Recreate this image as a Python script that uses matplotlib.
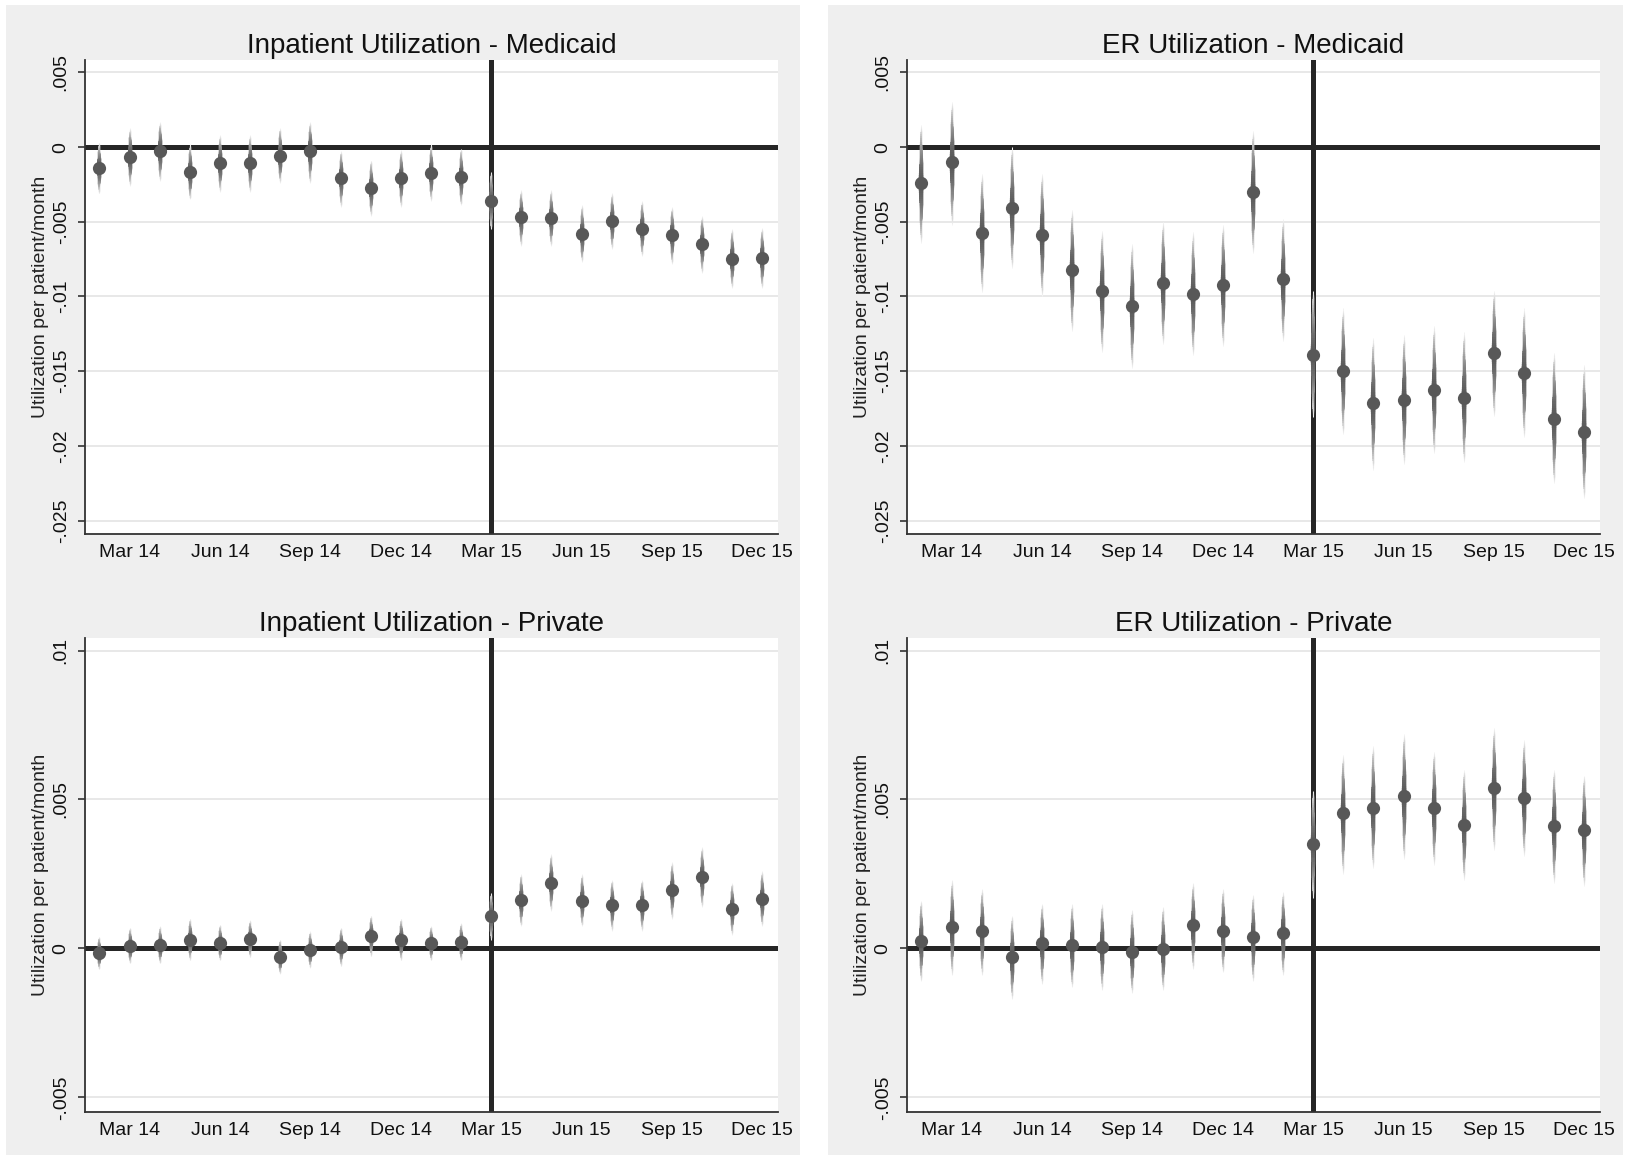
import numpy as np
import matplotlib.pyplot as plt
from matplotlib.patches import Rectangle

plt.rcParams['font.family'] = ['Liberation Sans', 'DejaVu Sans']

# months Feb 14 .. Dec 15
months = ['Feb 14', 'Mar 14', 'Apr 14', 'May 14', 'Jun 14', 'Jul 14', 'Aug 14', 'Sep 14',
          'Oct 14', 'Nov 14', 'Dec 14', 'Jan 15', 'Feb 15', 'Mar 15', 'Apr 15', 'May 15',
          'Jun 15', 'Jul 15', 'Aug 15', 'Sep 15', 'Oct 15', 'Nov 15', 'Dec 15']
tick_months = ['Mar 14', 'Jun 14', 'Sep 14', 'Dec 14', 'Mar 15', 'Jun 15', 'Sep 15', 'Dec 15']
policy_month = 'Mar 15'

# Inpatient - Medicaid
inp_mcd = [-0.00137, -0.00067, -0.00025, -0.00167, -0.00107, -0.00107, -0.0006, -0.00027,
           -0.00204, -0.00276, -0.00206, -0.00172, -0.0020, -0.00363, -0.0047, -0.00475,
           -0.00582, -0.00495, -0.00545, -0.00587, -0.0065, -0.0075, -0.00744]
inp_mcd_lo = [-0.0031, -0.0026, -0.0023, -0.0035, -0.0030, -0.0030, -0.0024, -0.0024,
              -0.0040, -0.0046, -0.0040, -0.0036, -0.0039, -0.0055, -0.0066, -0.0066,
              -0.0077, -0.0068, -0.0073, -0.0078, -0.0084, -0.0094, -0.0094]
inp_mcd_hi = [0.0003, 0.0013, 0.0017, 0.0002, 0.0008, 0.0008, 0.0013, 0.0017,
              -0.00025, -0.0009, -0.0002, 0.0002, -0.0001, -0.0017, -0.0029, -0.0029,
              -0.0039, -0.0031, -0.0036, -0.0040, -0.0046, -0.0055, -0.0054]

# ER - Medicaid
er_mcd = [-0.0024, -0.00102, -0.00576, -0.00407, -0.00586, -0.0082, -0.00965, -0.01065,
          -0.0091, -0.00985, -0.00925, -0.0030, -0.00885, -0.0139, -0.0150, -0.01715,
          -0.0169, -0.01625, -0.0168, -0.0138, -0.0151, -0.0182, -0.0191]
er_mcd_lo = [-0.0064, -0.0052, -0.0097, -0.0081, -0.0100, -0.0123, -0.0137, -0.0148,
             -0.0132, -0.0139, -0.0133, -0.0071, -0.0130, -0.0181, -0.0192, -0.0216,
             -0.0212, -0.0205, -0.0211, -0.0180, -0.0194, -0.0225, -0.0235]
er_mcd_hi = [0.0015, 0.0030, -0.0018, 0.0000, -0.0018, -0.0042, -0.0056, -0.0065,
             -0.0050, -0.0057, -0.0052, 0.0011, -0.0048, -0.0096, -0.0108, -0.0128,
             -0.0126, -0.0120, -0.0124, -0.0096, -0.0108, -0.0138, -0.0146]

# Inpatient - Private
inp_prv = [-0.00016, 0.00008, 0.0001, 0.0003, 0.00017, 0.00033, -0.0003, -0.00004,
           0.00006, 0.00042, 0.0003, 0.00017, 0.0002, 0.00109, 0.00162, 0.0022,
           0.0016, 0.00146, 0.00147, 0.00195, 0.0024, 0.00134, 0.00166]
inp_prv_lo = [-0.0007, -0.0005, -0.0005, -0.0004, -0.0004, -0.0003, -0.00085, -0.00065,
              -0.0006, -0.00026, -0.0004, -0.0004, -0.0004, 0.0003, 0.00075, 0.00125,
              0.00075, 0.0006, 0.0006, 0.0010, 0.0014, 0.00045, 0.00075]
inp_prv_hi = [0.0004, 0.0007, 0.00075, 0.0010, 0.0008, 0.00095, 0.0003, 0.00057,
              0.0007, 0.0011, 0.0010, 0.00075, 0.00085, 0.00185, 0.0025, 0.00316,
              0.0025, 0.0023, 0.0023, 0.0029, 0.0034, 0.0022, 0.0026]

# ER - Private
er_prv = [0.00025, 0.00073, 0.00057, -0.00029, 0.00019, 0.0001, 0.00006, -0.00012,
          -0.00003, 0.00077, 0.00058, 0.00037, 0.00053, 0.0035, 0.00455, 0.00471,
          0.0051, 0.00472, 0.00414, 0.00538, 0.00505, 0.0041, 0.00398]
er_prv_lo = [-0.0011, -0.0009, -0.0009, -0.0017, -0.0012, -0.0013, -0.0014, -0.0015,
             -0.0014, -0.0007, -0.0008, -0.0011, -0.0009, 0.0017, 0.0025, 0.0027,
             0.0030, 0.0028, 0.0023, 0.0033, 0.0031, 0.0022, 0.0021]
er_prv_hi = [0.0016, 0.0023, 0.0020, 0.0011, 0.0015, 0.0015, 0.0015, 0.0013,
             0.0014, 0.0022, 0.0020, 0.0018, 0.0019, 0.0053, 0.0065, 0.0068,
             0.0072, 0.0066, 0.0060, 0.0074, 0.0070, 0.0060, 0.0058]

mcd_ticks = [0.005, 0, -0.005, -0.01, -0.015, -0.02, -0.025]
mcd_ticklabels = ['.005', '0', '-.005', '-.01', '-.015', '-.02', '-.025']
prv_ticks = [0.01, 0.005, 0, -0.005]
prv_ticklabels = ['.01', '.005', '0', '-.005']

W, H = 1627, 1158
PT = 0.72  # points per pixel at dpi 100

fig = plt.figure(figsize=(W / 100, H / 100), dpi=100, facecolor='white')

# gray panel backgrounds (Stata graph region)
for x0, x1 in [(6, 800), (828, 1623)]:
    fig.patches.append(Rectangle((x0 / W, 1 - 1155 / H), (x1 - x0) / W, (1155 - 5) / H,
                                 transform=fig.transFigure, facecolor='#efefef',
                                 edgecolor='none', zorder=-10))


def draw_panel(rect, title, est, lo, hi, ticks, ticklabels, ylim):
    ax = fig.add_axes(rect)
    ax.set_facecolor('white')
    x = np.arange(len(months))
    est = np.array(est)
    lo = np.array(lo)
    hi = np.array(hi)

    for t in ticks:
        ax.axhline(t, color='#e8e8e8', lw=2 * PT, zorder=1)
    ax.axhline(0, color='#262626', lw=5 * PT, zorder=2)
    ax.axvline(months.index(policy_month), color='#262626', lw=5 * PT, zorder=2)

    # spikes fading out towards the ends of the interval
    n = 30
    for k in range(n):
        f = 1 - k / n
        g = 0.35 + 0.6 * f ** 1.8
        w = 1.0 + 3.8 * (1 - f)
        ax.vlines(x, est - f * (est - lo), est + f * (hi - est),
                  color=(g, g, g), lw=w * PT, zorder=3)
    ax.plot(x, est, 'o', color='#585858', ms=9.5, mec='none', zorder=4)

    ax.set_xlim(-0.48, len(months) - 1 + 0.52)
    ax.set_ylim(*ylim)
    ax.set_xticks([months.index(m) for m in tick_months])
    ax.set_xticklabels(tick_months, fontsize=14, color='#111111')
    ax.set_yticks(ticks)
    ax.set_yticklabels(ticklabels, fontsize=14, rotation=90, va='center', color='#111111')
    ax.tick_params(axis='x', length=0, pad=7)
    ax.tick_params(axis='y', length=5, width=1.2, color='#333333', pad=6)
    for s in ['top', 'right']:
        ax.spines[s].set_visible(False)
    for s in ['left', 'bottom']:
        ax.spines[s].set_color('#333333')
        ax.spines[s].set_linewidth(1.3)
    ax.set_ylabel('Utilization per patient/month', fontsize=14, color='#222222')
    ax.yaxis.set_label_coords(-0.052, 0.5)
    ax.set_title(title, fontsize=20, color='#111111', pad=5)
    return ax


aw = 693 / W
ah = 474 / H
draw_panel([85 / W, 1 - 534 / H, aw, ah], 'Inpatient Utilization - Medicaid',
           inp_mcd, inp_mcd_lo, inp_mcd_hi, mcd_ticks, mcd_ticklabels, (-0.0259, 0.00583))
draw_panel([907 / W, 1 - 534 / H, aw, ah], 'ER Utilization - Medicaid',
           er_mcd, er_mcd_lo, er_mcd_hi, mcd_ticks, mcd_ticklabels, (-0.0259, 0.00583))
draw_panel([85 / W, 1 - 1112 / H, aw, ah], 'Inpatient Utilization - Private',
           inp_prv, inp_prv_lo, inp_prv_hi, prv_ticks, prv_ticklabels, (-0.00549, 0.01042))
draw_panel([907 / W, 1 - 1112 / H, aw, ah], 'ER Utilization - Private',
           er_prv, er_prv_lo, er_prv_hi, prv_ticks, prv_ticklabels, (-0.00549, 0.01042))

fig.savefig('out.png', dpi=100, facecolor=fig.get_facecolor())
